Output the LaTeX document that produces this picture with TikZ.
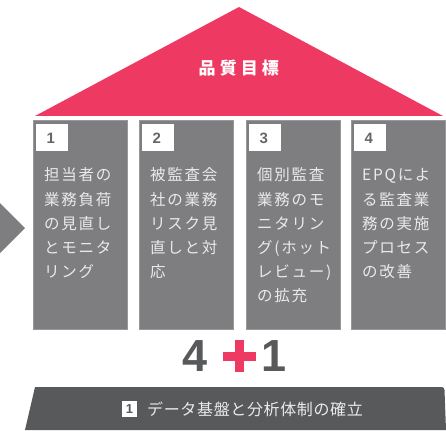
\documentclass[tikz,border=0pt]{standalone}
\usepackage{fontspec}
\newfontfamily\jpsp[LetterSpace=11]{Noto Sans CJK JP}
\newfontfamily\jpbot[LetterSpace=4]{Noto Sans CJK JP}
\newfontfamily\jptitle[LetterSpace=24]{Noto Sans CJK JP}
\newfontfamily\arialf{Liberation Sans}
\definecolor{roofpink}{HTML}{EE3A62}
\definecolor{pillargrey}{HTML}{7E7E81}
\definecolor{bargrey}{HTML}{58595B}
\definecolor{numgrey}{HTML}{666668}
\definecolor{ptext}{HTML}{EAEAEA}
\tikzset{
  pillar/.style={fill=pillargrey, draw=pillargrey!80!white, line width=0.6pt},
  numbox/.style={fill=white, draw=none},
  numtext/.style={anchor=base west, inner sep=0, text=numgrey, font=\arialf\bfseries\fontsize{15}{15}\selectfont},
  ptextline/.style={anchor=base west, inner sep=0, text=ptext, font=\jpsp\fontsize{15.5}{15.5}\selectfont},
  bigdigit/.style={inner sep=0, text=bargrey, font=\arialf\bfseries\fontsize{45}{45}\selectfont},
}
\begin{document}
\begin{tikzpicture}[x=1pt,y=-1pt]
\useasboundingbox (0,0) rectangle (446,430);
% roof
\fill[roofpink] (35,116) -- (239,7) -- (443,116) -- cycle;
\node[anchor=base west, inner sep=0, text=white, font=\jptitle\bfseries\fontsize{17}{17}\selectfont] (title) at (198.5,74.5) {品質目標};
% left arrow
\fill[pillargrey] (0,203) -- (25,228) -- (0,253) -- cycle;
% pillars
\foreach \x/\n in {33/1,139/2,246/3,351/4}{
  \draw[pillar] (\x,120) rectangle ++(94,209);
  \fill[numbox] (\x+3,124) rectangle ++(32,27);
  \node[numtext] (num\n) at (\x+13.5,144) {\n};
}
\foreach \l [count=\i] in {担当者の,業務負荷,の見直し,とモニタ,リング}
  \node[ptextline] (pa\i) at (44,181+24*\i-24) {\l};
\foreach \l [count=\i] in {被監査会,社の業務,リスク見,直しと対,応}
  \node[ptextline] (pb\i) at (150,181+24*\i-24) {\l};
\foreach \l [count=\i] in {個別監査,業務のモ,ニタリン,グ(ホット,レビュー),の拡充}
  \node[ptextline] (pc\i) at (257,181+24*\i-24) {\l};
\foreach \l [count=\i] in {EPQによ,る監査業,務の実施,プロセス,の改善}
  \node[ptextline] (pd\i) at (362,181+24*\i-24) {\l};
% 4 + 1
\node[bigdigit] (four) at (195.5,356.5) {4};
\fill[roofpink] (222.7,351.7) rectangle (256,361);
\fill[roofpink] (235,340) rectangle (244.3,372);
\node[bigdigit] (one) at (274.5,356.5) {1};
% bottom bar
\fill[bargrey] (35,387) -- (442,387) to[out=0,in=100] (444.5,390) -- (446,430) -- (25,430) -- cycle;
\fill[white] (122,401) rectangle (137,417);
\node[inner sep=0, text=bargrey, font=\arialf\bfseries\fontsize{13}{13}\selectfont] (bnum) at (129.5,409) {1};
\node[anchor=base west, inner sep=0, text=ptext, font=\jpbot\fontsize{16}{16}\selectfont] (btext) at (147,415) {データ基盤と分析体制の確立};
\end{tikzpicture}
\end{document}
